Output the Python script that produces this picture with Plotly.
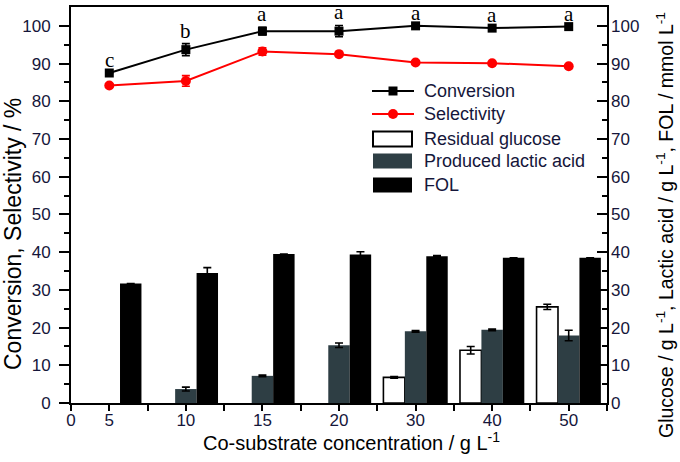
import plotly.graph_objects as go

categories = ["5", "10", "15", "20", "30", "40", "50"]
conversion = [87.5, 93.7, 98.6, 98.6, 100.0, 99.4, 99.8]
conversion_err = [0.0, 1.6, 1.0, 1.5, 0.0, 0.0, 0.0]
selectivity = [84.2, 85.4, 93.2, 92.5, 90.3, 90.1, 89.3]
selectivity_err = [0.0, 1.4, 1.0, 0.0, 0.0, 0.0, 0.0]
glucose = [None, None, None, None, 6.8, 14.0, 25.5]
glucose_err = [0, 0, 0, 0, 0.2, 1.0, 0.7]
lactic = [None, 3.7, 7.2, 15.3, 19.0, 19.4, 17.9]
lactic_err = [0, 0.5, 0.2, 0.6, 0.2, 0.2, 1.4]
fol = [31.7, 34.5, 39.5, 39.4, 38.9, 38.5, 38.5]
fol_err = [0, 1.4, 0, 0.7, 0.2, 0, 0]
letters = ["c", "b", "a", "a", "a", "a", "a"]
legend_names = ["Conversion", "Selectivity", "Residual glucose", "Produced lactic acid", "FOL"]

xpos = list(range(len(categories)))
FONT = "Liberation Sans, Arial, sans-serif"
TICKC = "#15163a"
LACTIC_C = "#2e3e44"
RED = "#ff0000"

# figure geometry
W, H = 680, 462
ML, MR, MT, MB = 71, 73, 7, 59
PW, PH = W - ML - MR, H - MT - MB


def px(xp):
    return (xp - ML) / PW


def py(yp):
    return 1 - (yp - MT) / PH


fig = go.Figure()

fig.add_trace(go.Bar(
    x=xpos, y=glucose, name=legend_names[2],
    marker=dict(color="white", line=dict(color="black", width=1.6)),
    error_y=dict(type="data", array=glucose_err, color="black", thickness=1.6, width=4),
))
fig.add_trace(go.Bar(
    x=xpos, y=lactic, name=legend_names[3],
    marker=dict(color=LACTIC_C, line=dict(width=0)),
    error_y=dict(type="data", array=lactic_err, color="black", thickness=1.6, width=4),
))
fig.add_trace(go.Bar(
    x=xpos, y=fol, name=legend_names[4],
    marker=dict(color="black", line=dict(width=0)),
    error_y=dict(type="data", array=fol_err, color="black", thickness=1.6, width=4),
))
fig.add_trace(go.Scatter(
    x=xpos, y=conversion, name=legend_names[0], mode="lines+markers",
    line=dict(color="black", width=2),
    marker=dict(symbol="square", size=9, color="black"),
    error_y=dict(type="data", array=conversion_err, color="black", thickness=1.6, width=4),
))
fig.add_trace(go.Scatter(
    x=xpos, y=selectivity, name=legend_names[1], mode="lines+markers",
    line=dict(color=RED, width=2),
    marker=dict(symbol="circle", size=10, color=RED),
    error_y=dict(type="data", array=selectivity_err, color=RED, thickness=1.6, width=4),
))
# invisible trace to activate right axis
fig.add_trace(go.Scatter(x=[xpos[0]], y=[0], yaxis="y2", mode="markers",
                         marker=dict(opacity=0), showlegend=False, hoverinfo="skip"))

# significance letters
for xi, yi, ei, t in zip(xpos, conversion, conversion_err, letters):
    fig.add_annotation(x=xi, y=yi + ei, text=t, showarrow=False, yshift=13,
                       font=dict(family="Liberation Serif, Times New Roman, serif", size=21, color="black"))

# axis titles as annotations
title_font = dict(family=FONT, color="black")
fig.add_annotation(xref="paper", yref="paper", x=px(13), y=py(234), text="Conversion, Selectivity / %",
                   textangle=-90, showarrow=False, xanchor="center", yanchor="middle",
                   font=dict(size=23, **title_font))
fig.add_annotation(xref="paper", yref="paper", x=px(665), y=py(225),
                   text="Glucose / g L<sup>-1</sup>, Lactic acid / g L<sup>-1</sup>, FOL / mmol L<sup>-1</sup>",
                   textangle=-90, showarrow=False, xanchor="center", yanchor="middle",
                   font=dict(size=19.5, **title_font))
fig.add_annotation(xref="paper", yref="paper", x=px(351), y=py(442),
                   text="Co-substrate concentration / g L<sup>-1</sup>",
                   showarrow=False, xanchor="center", yanchor="middle",
                   font=dict(size=20, **title_font))

# manual legend
shapes = []
row_y = [91, 114, 139, 161, 185]
sx0, sx1, tx = 372, 414, 422
shapes.append(dict(type="line", xref="paper", yref="paper", x0=px(sx0), x1=px(sx1),
                   y0=py(row_y[0]), y1=py(row_y[0]), line=dict(color="black", width=2)))
shapes.append(dict(type="rect", xref="paper", yref="paper", x0=px(388.5), x1=px(397.5),
                   y0=py(row_y[0] - 4.5), y1=py(row_y[0] + 4.5), line=dict(width=0), fillcolor="black"))
shapes.append(dict(type="line", xref="paper", yref="paper", x0=px(sx0), x1=px(sx1),
                   y0=py(row_y[1]), y1=py(row_y[1]), line=dict(color=RED, width=2)))
shapes.append(dict(type="circle", xref="paper", yref="paper", x0=px(388), x1=px(398),
                   y0=py(row_y[1] - 5), y1=py(row_y[1] + 5), line=dict(width=0), fillcolor=RED))
box_fill = ["white", LACTIC_C, "black"]
box_line = [dict(color="black", width=2), dict(width=0), dict(width=0)]
for ry, fc, ln in zip(row_y[2:], box_fill, box_line):
    shapes.append(dict(type="rect", xref="paper", yref="paper", x0=px(373), x1=px(412),
                       y0=py(ry - 7.5), y1=py(ry + 7.5), line=ln, fillcolor=fc))
for ry, name in zip(row_y, legend_names):
    fig.add_annotation(xref="paper", yref="paper", x=px(tx), y=py(ry), text=name, showarrow=False,
                       xanchor="left", yanchor="middle", font=dict(family=FONT, size=18, color=TICKC))

tickvals = [-0.5] + xpos
ticktext = ["0"] + categories
minor_x = [i + 0.5 for i in xpos]

fig.update_layout(
    width=W, height=H,
    margin=dict(l=ML, r=MR, t=MT, b=MB, autoexpand=False),
    plot_bgcolor="white", paper_bgcolor="white",
    barmode="group", bargap=0.16, bargroupgap=0,
    font=dict(family=FONT, size=17, color="black"),
    showlegend=False,
    shapes=shapes,
    xaxis=dict(range=[-0.5, 6.5], tickmode="array", tickvals=tickvals, ticktext=ticktext,
               ticks="outside", ticklen=6, tickwidth=2, tickcolor="black", automargin=False,
               ticklabelstandoff=-5,
               minor=dict(tickvals=minor_x, ticks="outside", ticklen=6, tickwidth=2,
                          tickcolor="black", showgrid=False),
               showline=True, linecolor="black", linewidth=2, mirror=True,
               showgrid=False, zeroline=False, tickfont=dict(color=TICKC, size=17)),
    yaxis=dict(range=[0, 105], tickmode="array", tickvals=list(range(0, 101, 10)),
               ticks="outside", ticklen=10, tickwidth=2, tickcolor="black", automargin=False,
               ticklabelstandoff=5,
               minor=dict(tickvals=list(range(5, 101, 10)), ticks="outside", ticklen=5,
                          tickwidth=2, tickcolor="black"),
               showline=True, linecolor="black", linewidth=2, mirror=True,
               showgrid=False, zeroline=False, tickfont=dict(color=TICKC, size=17)),
    yaxis2=dict(range=[0, 105], overlaying="y", side="right", tickmode="array",
                tickvals=list(range(0, 101, 10)), automargin=False,
                ticks="inside", ticklen=10, tickwidth=2, tickcolor="black",
                ticklabelstandoff=3,
                minor=dict(tickvals=list(range(5, 101, 10)), ticks="inside", ticklen=5,
                           tickwidth=2, tickcolor="black"),
                showline=False, showgrid=False, zeroline=False,
                tickfont=dict(color=TICKC, size=17)),
)

fig.write_html("out.html", config={"displayModeBar": False},
               post_script="document.body.style.margin='0';")
